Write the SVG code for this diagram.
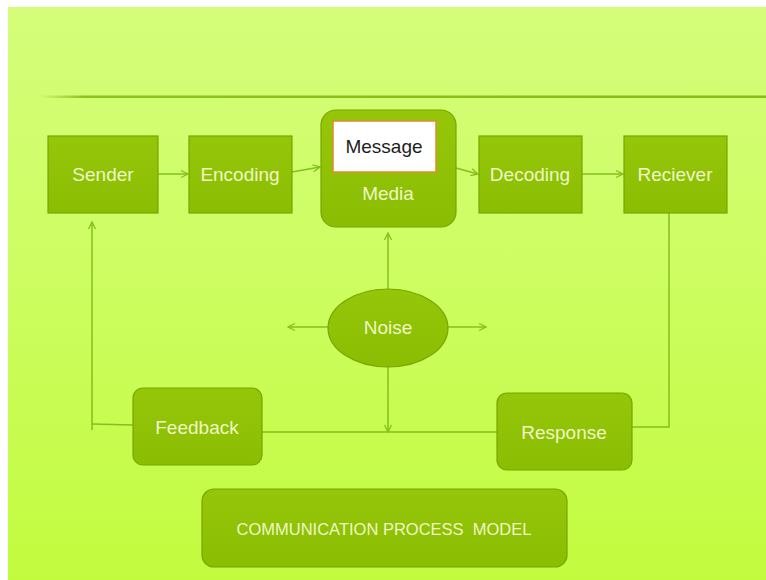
<svg xmlns="http://www.w3.org/2000/svg" width="766" height="580" viewBox="0 0 766 580">
<defs>
<linearGradient id="bg" x1="0" y1="0" x2="0" y2="1">
<stop offset="0" stop-color="#d5fd7a"/>
<stop offset="0.45" stop-color="#cdfd62"/>
<stop offset="1" stop-color="#c2fb3e"/>
</linearGradient>
<linearGradient id="rule" x1="0" y1="0" x2="1" y2="0">
<stop offset="0" stop-color="#8cc21e" stop-opacity="0"/>
<stop offset="0.06" stop-color="#8cc21e" stop-opacity="1"/>
<stop offset="1" stop-color="#86bc14"/>
</linearGradient>
<linearGradient id="box" x1="0" y1="0" x2="0" y2="1">
<stop offset="0" stop-color="#95c60a"/>
<stop offset="1" stop-color="#8bbd02"/>
</linearGradient>
<marker id="ah" viewBox="0 0 10 10" refX="9" refY="5" markerWidth="10" markerHeight="10" markerUnits="userSpaceOnUse" orient="auto">
<polyline points="2,1.5 9,5 2,8.5" fill="none" stroke="#86bf1c" stroke-width="1.3"/>
</marker>
<style>
.node{fill:url(#box);stroke:#78a600;stroke-width:1.2}
.lbl{font-family:"Liberation Sans",Arial,sans-serif;font-size:19px;fill:#eef8c4;text-anchor:middle}
.conn{fill:none;stroke:#86bf1c;stroke-width:1.5}
.arr{marker-end:url(#ah)}
</style>
</defs>
<rect x="0" y="0" width="766" height="580" fill="#ffffff"/>
<rect x="8" y="7" width="758" height="573" fill="url(#bg)"/>
<rect x="40" y="95.5" width="726" height="2.5" fill="url(#rule)"/>

<g id="connectors">
<line class="conn arr" x1="158" y1="174" x2="188" y2="174"/>
<line class="conn arr" x1="292" y1="172" x2="320" y2="167"/>
<line class="conn arr" x1="456" y1="168" x2="478" y2="174"/>
<line class="conn arr" x1="582" y1="174" x2="623" y2="174"/>
<line class="conn arr" x1="388" y1="289" x2="388" y2="233"/>
<line class="conn arr" x1="328" y1="327" x2="288" y2="327"/>
<line class="conn arr" x1="448" y1="327" x2="486" y2="327"/>
<line class="conn arr" x1="388" y1="367" x2="388" y2="432"/>
<polyline class="conn arr" points="92,430 92,222"/>
<line class="conn" x1="92" y1="424" x2="133" y2="425"/>
<line class="conn" x1="262" y1="432" x2="497" y2="432"/>
<polyline class="conn" points="632,427 669,427 669,213"/>
</g>

<g id="sender">
<rect class="node" x="48" y="136" width="110" height="77"/>
<text class="lbl" x="103" y="181">Sender</text>
</g>
<g id="encoding">
<rect class="node" x="189" y="136" width="103" height="77"/>
<text class="lbl" x="240" y="181">Encoding</text>
</g>
<g id="media">
<rect class="node" x="321" y="110" width="135" height="117" rx="15" ry="15"/>
<rect x="333" y="121" width="103" height="51" fill="#ffffff" stroke="#e08a2a" stroke-width="1.5"/>
<text class="lbl" x="384" y="153" style="fill:#1e1e1e">Message</text>
<text class="lbl" x="388" y="200">Media</text>
</g>
<g id="decoding">
<rect class="node" x="479" y="136" width="103" height="77"/>
<text class="lbl" x="530" y="181">Decoding</text>
</g>
<g id="reciever">
<rect class="node" x="624" y="136" width="103" height="77"/>
<text class="lbl" x="675" y="181">Reciever</text>
</g>
<g id="noise">
<ellipse class="node" cx="388" cy="328" rx="60" ry="39"/>
<text class="lbl" x="388" y="334">Noise</text>
</g>
<g id="feedback">
<rect class="node" x="133" y="388" width="129" height="77" rx="10" ry="10"/>
<text class="lbl" x="197" y="434">Feedback</text>
</g>
<g id="response">
<rect class="node" x="497" y="393" width="135" height="77" rx="10" ry="10"/>
<text class="lbl" x="564" y="439">Response</text>
</g>
<g id="title">
<rect class="node" x="202" y="489" width="365" height="78" rx="12" ry="12"/>
<text class="lbl" x="384" y="535" style="font-size:16.5px" xml:space="preserve">COMMUNICATION PROCESS  MODEL</text>
</g>
</svg>
